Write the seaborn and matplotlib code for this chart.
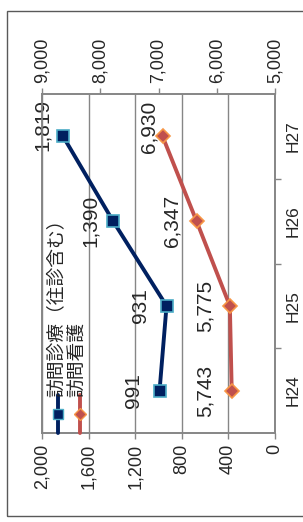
import matplotlib
matplotlib.use("Agg")
import matplotlib.pyplot as plt
import seaborn as sns
import pandas as pd
from matplotlib.lines import Line2D
from matplotlib.patches import Rectangle

# data
years = ['H24', 'H25', 'H26', 'H27']
shinryo = [991, 931, 1390, 1819]      # 訪問診療（往診含む） - left axis
kango = [5743, 5775, 6347, 6930]      # 訪問看護 - right axis
shinryo_ticks = [0, 400, 800, 1200, 1600, 2000]
kango_ticks = [5000, 6000, 7000, 8000, 9000]

sns.set_theme(style="white")
plt.rcParams['font.family'] = ['Liberation Sans', 'Noto Sans CJK JP', 'DejaVu Sans']

grid_c = '#868686'
navy = '#002060'
teal = '#4bacc6'
red = '#c0504d'
orange = '#f79646'

df = pd.DataFrame({'year': years, 'pos': range(len(years)),
                   'shinryo': shinryo, 'kango': kango})

W, H = 303, 522
fig = plt.figure(figsize=(W / 100, H / 100), dpi=100)
fig.patches.append(Rectangle((7 / W, 1 - 516 / H), 1.0, (516 - 11) / H,
                             transform=fig.transFigure, fill=False,
                             edgecolor='#595959', lw=1.0))

# the chart is drawn turned by 90 degrees: categories run bottom->top
ax = fig.add_axes([42 / W, 1 - 433 / H, (275 - 42) / W, (433 - 94) / H])
ax2 = ax.twiny()

sns.lineplot(data=df, x='shinryo', y='pos', orient='y', sort=False, ax=ax,
             color=navy, lw=2.8, marker='s', markersize=9,
             markerfacecolor=navy, markeredgecolor=teal, markeredgewidth=1.2)
sns.lineplot(data=df, x='kango', y='pos', orient='y', sort=False, ax=ax2,
             color=red, lw=2.8, marker='D', markersize=7.5,
             markerfacecolor=red, markeredgecolor=orange, markeredgewidth=1.2)

ax.set_xlim(2000, 0)
ax2.set_xlim(9000, 5000)
ax.set_ylim(-0.5, len(years) - 0.5)
ax.set_xticks(shinryo_ticks)
ax.set_xticklabels([f'{v:,}' for v in shinryo_ticks], rotation=90, fontsize=13)
ax2.set_xticks(kango_ticks)
ax2.set_xticklabels([f'{v:,}' for v in kango_ticks], rotation=90, fontsize=13)
ax.set_xlabel('')
ax2.set_xlabel('')
ax.set_ylabel('')

# categories on the right side
ax.yaxis.tick_right()
ax.set_yticks(range(len(years)))
ax.set_yticklabels(years, rotation=90, va='center', fontsize=12.5)
ax.set_yticks([p + 0.5 for p in range(len(years) - 1)], minor=True)
ax.tick_params(axis='y', which='major', length=0, pad=8)
ax.tick_params(axis='y', which='minor', length=4, width=1, color=grid_c,
               direction='out', right=True, left=False)
ax.tick_params(axis='x', length=4, width=1, color=grid_c, direction='out', pad=4)
ax2.tick_params(axis='x', length=4, width=1, color=grid_c, direction='out', pad=4)

ax.grid(axis='x', color=grid_c, lw=1)
ax.grid(axis='y', visible=False)
ax2.grid(False)
for a in (ax, ax2):
    for s in a.spines.values():
        s.set_color(grid_c)
        s.set_linewidth(1.2)

# data labels (to the left of each marker), offsets in points
off_shinryo = [(-19, 0), (-19, 0), (-16.5, 0), (-15, 8)]
off_kango = [(-19, 0), (-18, 0), (-18, 0), (-10, 7)]
for p, v, o in zip(df['pos'], df['shinryo'], off_shinryo):
    ax.annotate(f'{v:,}', (v, p), xytext=o, textcoords='offset points',
                rotation=90, ha='center', va='center', fontsize=15)
for p, v, o in zip(df['pos'], df['kango'], off_kango):
    ax2.annotate(f'{v:,}', (v, p), xytext=o, textcoords='offset points',
                 rotation=90, ha='center', va='center', fontsize=15)

# rotated legend drawn by hand
entries = [('訪問診療（往診含む）', navy, 's', teal, 9, 58),
           ('訪問看護', red, 'D', orange, 7.5, 80)]
for label, c, m, ec, ms, xp in entries:
    xf = xp / W
    fig.add_artist(Line2D([xf, xf], [1 - 433 / H, 1 - 395 / H],
                          transform=fig.transFigure, color=c, lw=2.8))
    fig.add_artist(Line2D([xf], [1 - 414 / H], transform=fig.transFigure,
                          marker=m, markersize=ms * 0.85, markerfacecolor=c,
                          markeredgecolor=ec, markeredgewidth=1.0, color=c))
    fig.text(xf - 1 / W, 1 - 397 / H, label, rotation=90, ha='center',
             va='bottom', fontsize=13.5, color='#262626')

fig.savefig('out.png', dpi=100)
